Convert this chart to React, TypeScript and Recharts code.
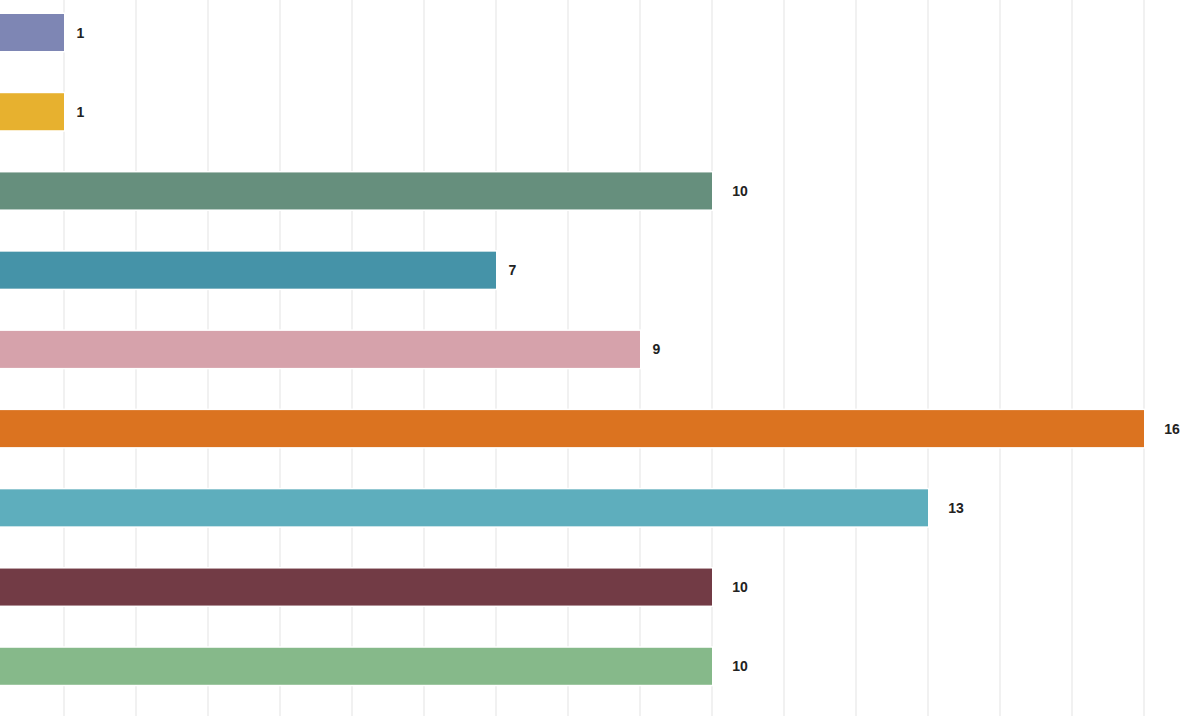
import React from "react";
import { BarChart, Bar, XAxis, YAxis, CartesianGrid, Cell, LabelList } from "recharts";

const categories = ["A", "B", "C", "D", "E", "F", "G", "H", "I"];
const values = [1, 1, 10, 7, 9, 16, 13, 10, 10];
const colors = [
  "#7E86B4",
  "#E7B12F",
  "#668F7D",
  "#4593A8",
  "#D6A2AB",
  "#DB7320",
  "#5EAEBD",
  "#723B45",
  "#86B98A",
];
const xTicks = [0, 1, 2, 3, 4, 5, 6, 7, 8, 9, 10, 11, 12, 13, 14, 15, 16, 17];

const data = categories.map((c, i) => ({ name: c, value: values[i] }));

const renderLabel = (props: any) => {
  const { x, y, width, height, value } = props;
  const s = String(value);
  const end = Number(x) + Number(width);
  const cx = end + 5 + 11.5 * s.length;
  const cy = Number(y) + Number(height) / 2 + 5;
  return (
    <text
      x={cx}
      y={cy}
      textAnchor="middle"
      fontFamily="'Liberation Sans', Arial, sans-serif"
      fontSize={14}
      fontWeight="bold"
      fill="#222"
    >
      {s}
    </text>
  );
};

const BarShape = (props: any) => {
  const { x, y, width, height, fill } = props;
  return (
    <g>
      <rect x={x} y={y - 1.5} width={width + 1.5} height={height + 3} fill="#ffffff" />
      <rect x={x} y={y} width={width} height={height} fill={fill} />
    </g>
  );
};

export default function App() {
  return (
    <div style={{ position: "absolute", left: -8, top: -8, background: "#fff" }}>
      <BarChart
        width={1224}
        height={740}
        data={data}
        layout="vertical"
        margin={{ top: 0, right: 0, bottom: 0, left: 0 }}
      >
        <CartesianGrid horizontal={false} vertical={true} stroke="#e3e3e3" strokeWidth={1} />
        <XAxis type="number" domain={[0, 17]} ticks={xTicks} hide />
        <YAxis
          type="category"
          dataKey="name"
          hide
          padding={{ top: 1, bottom: 26 }}
        />
        <Bar dataKey="value" barSize={37} shape={<BarShape />} isAnimationActive={false}>
          {data.map((d, i) => (
            <Cell key={d.name} fill={colors[i]} />
          ))}
          <LabelList dataKey="value" content={renderLabel} />
        </Bar>
      </BarChart>
    </div>
  );
}
